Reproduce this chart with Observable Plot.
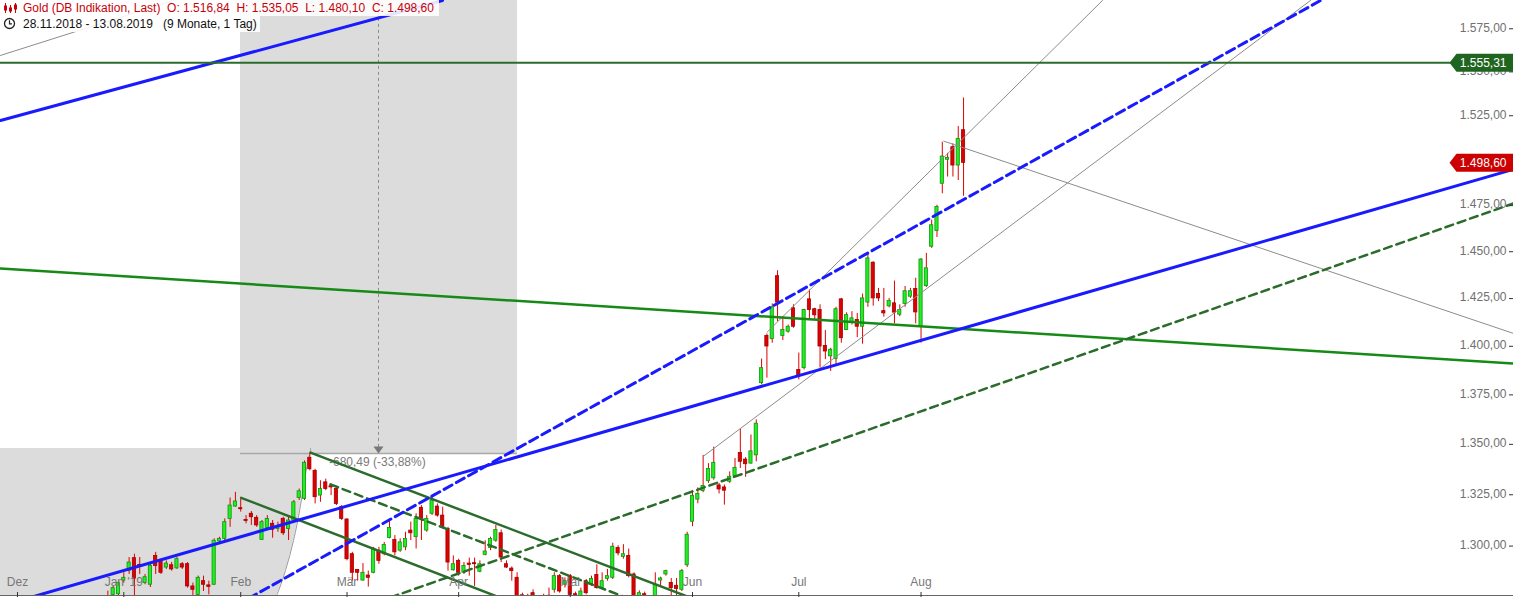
<!DOCTYPE html>
<html><head><meta charset="utf-8">
<script src="https://cdn.jsdelivr.net/npm/d3@7"></script>
<script src="https://cdn.jsdelivr.net/npm/@observablehq/plot@0.6"></script>
<style>
body{margin:0;background:#fff;font-family:"Liberation Sans",Arial,sans-serif;}
#wrap{position:relative;width:1513px;height:598px;overflow:hidden;}
#wrap svg.plot{display:block}
.hl{position:absolute;left:0;height:16px;line-height:16px;background:rgba(255,255,255,0.88);white-space:pre;font-size:12px;padding-left:23px;padding-right:5px;}
#l1{top:0;color:#c8000a;}
#l2{top:16px;color:#111;padding-right:3px;}
.ico{position:absolute;left:3px;top:2px;}
</style></head>
<body><div id="wrap"></div>
<script>
// ---------------- data ----------------
const title = "Gold (DB Indikation, Last)";
const ohlcLabel = "O: 1.516,84  H: 1.535,05  L: 1.480,10  C: 1.498,60";
const rangeLabel = "28.11.2018 - 13.08.2019   (9 Monate, 1 Tag)";

const dates = [
"2018-11-28","2018-11-29","2018-11-30",
"2018-12-03","2018-12-04","2018-12-05","2018-12-06","2018-12-07","2018-12-10","2018-12-11","2018-12-12","2018-12-13","2018-12-14",
"2018-12-17","2018-12-18","2018-12-19","2018-12-20","2018-12-21","2018-12-24","2018-12-26","2018-12-27","2018-12-28","2018-12-31",
"2019-01-02","2019-01-03","2019-01-04","2019-01-07","2019-01-08","2019-01-09","2019-01-10","2019-01-11","2019-01-14","2019-01-15",
"2019-01-16","2019-01-17","2019-01-18","2019-01-21","2019-01-22","2019-01-23","2019-01-24","2019-01-25","2019-01-28","2019-01-29","2019-01-30","2019-01-31",
"2019-02-01","2019-02-04","2019-02-05","2019-02-06","2019-02-07","2019-02-08","2019-02-11","2019-02-12","2019-02-13","2019-02-14","2019-02-15",
"2019-02-18","2019-02-19","2019-02-20","2019-02-21","2019-02-22","2019-02-25","2019-02-26","2019-02-27","2019-02-28",
"2019-03-01","2019-03-04","2019-03-05","2019-03-06","2019-03-07","2019-03-08","2019-03-11","2019-03-12","2019-03-13","2019-03-14","2019-03-15",
"2019-03-18","2019-03-19","2019-03-20","2019-03-21","2019-03-22","2019-03-25","2019-03-26","2019-03-27","2019-03-28","2019-03-29",
"2019-04-01","2019-04-02","2019-04-03","2019-04-04","2019-04-05","2019-04-08","2019-04-09","2019-04-10","2019-04-11","2019-04-12",
"2019-04-15","2019-04-16","2019-04-17","2019-04-18","2019-04-22","2019-04-23","2019-04-24","2019-04-25","2019-04-26","2019-04-29","2019-04-30",
"2019-05-01","2019-05-02","2019-05-03","2019-05-06","2019-05-07","2019-05-08","2019-05-09","2019-05-10","2019-05-13","2019-05-14","2019-05-15","2019-05-16","2019-05-17",
"2019-05-20","2019-05-21","2019-05-22","2019-05-23","2019-05-24","2019-05-27","2019-05-28","2019-05-29","2019-05-30","2019-05-31",
"2019-06-03","2019-06-04","2019-06-05","2019-06-06","2019-06-07","2019-06-10","2019-06-11","2019-06-12","2019-06-13","2019-06-14",
"2019-06-17","2019-06-18","2019-06-19","2019-06-20","2019-06-21","2019-06-24","2019-06-25","2019-06-26","2019-06-27","2019-06-28",
"2019-07-01","2019-07-02","2019-07-03","2019-07-04","2019-07-05","2019-07-08","2019-07-09","2019-07-10","2019-07-11","2019-07-12",
"2019-07-15","2019-07-16","2019-07-17","2019-07-18","2019-07-19","2019-07-22","2019-07-23","2019-07-24","2019-07-25","2019-07-26","2019-07-29","2019-07-30","2019-07-31",
"2019-08-01","2019-08-02","2019-08-05","2019-08-06","2019-08-07","2019-08-08","2019-08-09","2019-08-12","2019-08-13"
];

const open = [
1214,1222,1224,
1226,1231,1238,1237,1239,1248,1244,1245,1244,1241,1238,1246,1249,1243,1259,1256,1270,1268,1276.7,1277.0,
1283.5,1288.0,1294.2,1291.0,1282.3,1281.5,1295.3,1292.9,1289.7,1290.8,1289.3,1291.3,1291.3,1280.7,1276.7,1283.2,1281.2,1281.5,1302.3,1303.5,1313.2,1319.2,
1318.4,1312.7,1315.7,1313.7,1303.0,1308.8,1310.8,1308.3,1313.2,1308.3,1312.4,1323.4,1323.0,1343.3,1336.8,1324.6,1331.1,1329.2,1327.8,1318.9,
1312.9,1296.1,1288.5,1283.5,1285.9,1287.2,1297.8,1296.1,1303.9,1303.0,1297.8,1299.4,1307.5,1304.3,1318.6,1307.5,1315.7,1319.2,1314.8,1308.3,1288.4,
1292.9,1287.2,1291.6,1291.8,1287.7,1295.8,1299.1,1302.6,1306.2,1291.3,1289.2,1284.8,1276.5,1273.0,1277.5,1274.0,1271.0,1274.0,1279.1,1285.6,1281.5,
1285.6,1277.0,1275.8,1283.2,1281.8,1286.1,1279.9,1284.3,1284.8,1299.1,1294.8,1295.3,1286.4,1275.8,1277.0,1270.0,1275.8,1283.5,1286.4,1282.3,1281.0,1279.1,1290.8,
1311.8,1322.6,1326.8,1331.7,1333.1,1329.6,1328.6,1331.4,1334.2,1345.7,1342.4,1340.4,1344.5,1381.0,1405.4,1403.7,1436.9,1405.4,1407.6,1419.9,
1387.8,1388.7,1424.6,1419.4,1419.0,1400.2,1394.8,1393.4,1424.6,1408.5,1412.3,1413.7,1410.2,1422.9,1444.1,1427.4,1418.4,1420.9,1422.5,1416.5,1422.2,1426.0,1430.1,
1410.2,1431.6,1452.7,1461.2,1487.0,1500.3,1507.3,1497.1,1516.84
];
const high = [
1226,1227,1226,
1236,1240,1241,1244,1250,1250,1248,1249,1246,1243,1247,1251,1258,1262,1263,1271,1271,1278.5,1280.7,1283.2,
1287.2,1294.5,1296.1,1294.5,1286.4,1291.6,1297.0,1293.7,1292.9,1292.1,1294.5,1292.1,1292.1,1282.3,1285.6,1285.6,1283.2,1303.5,1304.3,1313.2,1323.4,1326.2,
1323.0,1314.8,1316.8,1314.8,1312.4,1314.8,1312.4,1311.6,1314.0,1314.8,1322.2,1327.8,1341.7,1345.5,1337.6,1331.9,1332.7,1330.3,1328.6,1319.7,
1313.2,1297.0,1288.8,1291.6,1288.0,1299.4,1299.4,1301.8,1312.4,1305.1,1303.5,1306.7,1311.6,1315.7,1319.7,1314.8,1324.6,1320.5,1318.9,1309.1,1295.3,
1293.7,1292.1,1294.2,1294.2,1292.9,1302.6,1304.3,1310.0,1307.8,1292.9,1290.0,1287.2,1277.5,1277.0,1279.1,1275.0,1277.0,1279.9,1287.2,1286.4,1284.8,
1286.4,1278.0,1279.9,1284.0,1285.6,1291.0,1287.2,1288.8,1301.4,1300.2,1300.7,1298.6,1287.2,1278.6,1278.0,1276.0,1287.2,1285.1,1288.4,1284.5,1284.5,1288.8,1306.7,
1327.1,1328.4,1344.5,1340.4,1348.6,1330.6,1329.8,1336.3,1342.9,1357.7,1343.4,1354.7,1362.3,1393.4,1406.4,1422.2,1439.8,1415.5,1411.1,1421.7,
1396.5,1419.4,1429.5,1419.9,1421.7,1408.2,1399.0,1420.4,1425.1,1417.5,1418.1,1417.2,1427.4,1448.7,1444.6,1430.4,1430.4,1425.1,1434.3,1421.7,1431.4,1430.4,1435.8,
1446.3,1449.1,1467.1,1475.2,1510.1,1503.9,1509.2,1518.9,1535.05
];
const low = [
1212,1219,1217,
1225,1229,1235,1234,1237,1241,1240,1241,1239,1233,1236,1244,1243,1241,1255,1255,1264,1265,1275.3,1275.8,
1282.3,1286.4,1275.8,1286.4,1281.5,1280.2,1286.4,1286.4,1288.8,1288.0,1288.8,1288.8,1279.9,1275.8,1275.8,1278.3,1276.7,1281.2,1301.0,1302.7,1309.1,1318.9,
1316.5,1310.8,1310.0,1309.1,1302.7,1308.3,1303.8,1306.7,1305.1,1302.7,1311.6,1322.2,1322.2,1336.8,1320.5,1321.3,1327.0,1324.6,1319.7,1312.4,
1292.9,1283.2,1283.2,1283.2,1280.4,1286.7,1291.3,1295.3,1303.5,1295.3,1297.0,1297.8,1302.7,1298.6,1302.7,1306.7,1314.8,1314.0,1308.3,1288.0,1288.0,
1285.6,1286.4,1285.6,1280.7,1287.2,1295.3,1297.8,1301.8,1292.1,1289.3,1283.2,1273.0,1270.0,1266.0,1275.0,1266.0,1269.0,1272.0,1277.5,1277.5,1279.9,
1275.8,1266.0,1275.3,1276.7,1280.7,1279.4,1279.1,1283.2,1284.0,1295.3,1293.7,1284.8,1274.0,1273.0,1268.0,1269.0,1273.0,1280.7,1285.6,1275.8,1276.0,1278.3,1289.7,
1309.4,1320.6,1326.0,1330.6,1332.2,1325.4,1319.9,1330.6,1333.9,1338.0,1333.6,1340.1,1341.3,1380.2,1383.6,1401.6,1412.9,1403.0,1406.8,1409.4,
1382.7,1387.8,1413.4,1413.4,1388.7,1393.1,1387.0,1390.5,1401.6,1408.2,1411.1,1404.5,1401.1,1420.4,1421.0,1423.4,1415.2,1420.1,1411.7,1415.5,1420.4,1425.1,1411.7,
1401.6,1430.9,1451.8,1457.7,1481.5,1490.7,1490.7,1488.8,1480.10
];
const close = [
1222,1224,1222,
1231,1239,1237,1239,1248,1244,1245,1244,1241,1238,1246,1249,1243,1259,1256,1270,1268,1276,1279.9,1282.3,
1284.8,1292.1,1284.4,1290.0,1285.1,1290.5,1290.5,1287.2,1291.6,1288.8,1293.7,1289.7,1280.7,1279.1,1284.8,1281.5,1280.5,1302.6,1303.5,1311.6,1319.7,1321.7,
1317.9,1312.2,1314.0,1310.0,1311.6,1313.2,1307.9,1309.5,1306.2,1312.4,1321.3,1326.7,1340.8,1337.6,1323.8,1327.8,1327.8,1328.6,1320.5,1313.2,
1293.7,1287.2,1287.2,1287.2,1284.8,1298.6,1292.9,1300.5,1308.8,1297.0,1301.8,1303.5,1306.2,1313.2,1313.2,1313.2,1322.2,1314.8,1309.1,1292.1,1291.3,
1287.2,1290.5,1291.0,1291.3,1291.3,1297.4,1303.5,1307.8,1294.5,1289.7,1288.0,1275.8,1273.0,1275.0,1275.8,1271.0,1275.0,1276.3,1285.6,1278.3,1283.2,
1276.7,1271.0,1278.3,1277.5,1284.3,1279.9,1283.2,1285.6,1299.7,1296.5,1296.1,1285.6,1275.8,1277.5,1270.0,1274.0,1281.5,1284.5,1288.0,1279.9,1279.5,1288.0,1305.5,
1324.5,1325.4,1329.3,1337.7,1340.8,1327.6,1327.0,1333.9,1338.3,1341.3,1340.1,1346.5,1360.4,1388.7,1399.9,1420.4,1422.9,1408.5,1410.2,1410.2,
1384.4,1419.0,1419.0,1416.2,1399.9,1397.3,1398.2,1419.4,1404.2,1416.3,1414.6,1410.2,1425.1,1446.4,1425.1,1425.1,1417.2,1423.8,1417.6,1419.0,1428.9,1428.9,1417.7,
1445.8,1441.1,1464.3,1474.3,1502.1,1501.4,1497.1,1512.0,1498.60
];

const monthStarts = ["2018-12-03","2019-01-02","2019-02-01","2019-03-01","2019-04-01","2019-05-01","2019-06-03","2019-07-01","2019-08-01"];
const monthLabels = ["Dez","Jan '19","Feb","Mär","Apr","Mai","Jun","Jul","Aug"];
// 1.500,00 sits fully under the last-price tag in the reference, so it is not drawn
const yTicks = [1300,1325,1350,1375,1400,1425,1450,1475,1525,1550,1575];
const tagHorizontal = 1555.31;
const tagLast = 1498.60;

// drawing tools (trading-day index, price)
const blueMain   = [[-0.2,1271.4],[284.47,1495.0]];
const blueUpper  = [[-0.2,1522.3],[82.96,1591.6]];
const blueDashed = [[46.46,1275.0],[248.16,1591.6]];
const greenDashedLong = [[73.18,1275.5],[284.47,1476.2]];
const greenLong  = [[-0.2,1441.0],[284.47,1391.1]];
const greenChanUpper = [[58.13,1345.9],[130.0,1275.0]];
const greenChanLower = [[45.09,1323.5],[94.18,1275.0]];
const greenChanMid   = [[61.89,1330.1],[117.96,1275.0]];
const grayUpper  = [[144.05,1407.4],[207.14,1591.6]];
const grayLower  = [[132.13,1344.2],[246.27,1591.6]];
const grayDown   = [[177.28,1510.7],[284.47,1406.7]];
const grayTopLeft= [[-0.2,1559.5],[32.35,1591.6]];
const measureBox = {x1:44.96, x2:97.07, y1:1345.4, y2:1600};
const measureArc = [[1347.9,58.13],[1345.9,58.13],[1340.9,57.57],[1319.7,56.24],[1302.7,54.93],[1288.3,53.42],[1277.4,51.92],[1275.0,51.54],[1269.3,50.98]];
const measureArrow = {x:70.92, yTop:1600, yEnd:1348.5, yTip:1346.9};
const measureNote = {x:61.6, y:1340.9, text:"-680,49 (-33,88%)"};

// ---------------- chart ----------------
const candles = dates.map((d,i)=>({i, date:d, o:open[i], h:high[i], l:low[i], c:close[i]}));
const up = candles.filter(d=>d.c>=d.o), down = candles.filter(d=>d.c<d.o);
const months = monthStarts.map((d,k)=>({i:dates.indexOf(d), label:monthLabels[k]}));
const de = d3.formatLocale({decimal:",", thousands:".", grouping:[3], currency:["",""]});
const fmt = de.format(",.2f");

const tagSymbol = {draw(ctx){ctx.moveTo(-64,0);ctx.lineTo(-57,-9);ctx.lineTo(0,-9);ctx.lineTo(0,9);ctx.lineTo(-57,9);ctx.closePath();}};
const arrowSymbol = {draw(ctx){ctx.moveTo(-5,-4);ctx.lineTo(5,-4);ctx.lineTo(0,3);ctx.closePath();}};
const P = d=>({x:d[0], y:d[1]});
const ln = (pts, o) => Plot.line(pts.map(P), {x:"x", y:"y", clip:true, ...o});

const chart = Plot.plot({
  width:1513, height:598,
  marginTop:0, marginRight:0, marginBottom:3, marginLeft:0,
  x:{domain:[-0.1985,284.47], axis:null},
  y:{type:"log", domain:[1276.4,1591.6], axis:null},
  style:{fontFamily:"'Liberation Sans', Arial, sans-serif", fontSize:"12px", background:"white", overflow:"hidden"},
  marks:[
    // measurement tool shading
    Plot.rect([measureBox], {x1:"x1", x2:"x2", y1:"y1", y2:"y2", fill:"#dcdcdc", clip:true}),
    Plot.areaX(measureArc, {y:d=>d[0], x1:()=>-0.2, x2:d=>d[1], fill:"#dcdcdc", curve:"natural", clip:true}),
    Plot.line(measureArc, {y:d=>d[0], x:d=>d[1], stroke:"#999", strokeWidth:1, curve:"natural", clip:true}),
    Plot.ruleY([measureBox], {y:"y1", x1:"x1", x2:"x2", stroke:"#a8a8a8", strokeWidth:1.5}),
    Plot.ruleX([measureArrow], {x:"x", y1:"yEnd", y2:"yTop", stroke:"#8a8a8a", strokeDasharray:"3,3", strokeWidth:1, clip:true}),
    Plot.dot([measureArrow], {x:"x", y:"yTip", symbol:arrowSymbol, fill:"#777", stroke:"none"}),
    Plot.text([measureNote], {x:"x", y:"y", text:"text", textAnchor:"start", fill:"#7a7a7a", fontSize:12}),
    // candles
    Plot.ruleX(candles, {x:"i", y1:"l", y2:"h", stroke:"#e00000", strokeWidth:1, clip:true}),
    Plot.rect(up, {x1:d=>d.i-0.3, x2:d=>d.i+0.3, y1:"o", y2:"c", fill:"#22ee22", stroke:"#0b960b", strokeWidth:0.8, clip:true}),
    Plot.rect(down, {x1:d=>d.i-0.3, x2:d=>d.i+0.3, y1:"o", y2:"c", fill:"#e00000", stroke:"#a00000", strokeWidth:0.8, clip:true}),
    // drawing tools
    ln(grayTopLeft, {stroke:"#8c8c8c", strokeWidth:1}),
    ln(grayUpper, {stroke:"#8c8c8c", strokeWidth:1}),
    ln(grayLower, {stroke:"#8c8c8c", strokeWidth:1}),
    ln(grayDown, {stroke:"#8c8c8c", strokeWidth:1}),
    ln(greenLong, {stroke:"#168a16", strokeWidth:2.5}),
    ln(greenChanUpper, {stroke:"#2b6b2b", strokeWidth:2.5}),
    ln(greenChanLower, {stroke:"#2b6b2b", strokeWidth:2.5}),
    ln(greenChanMid, {stroke:"#2b6b2b", strokeWidth:2.5, strokeDasharray:"8,5"}),
    ln(greenDashedLong, {stroke:"#2b6b2b", strokeWidth:2.5, strokeDasharray:"8,5"}),
    ln(blueMain, {stroke:"#1a1aff", strokeWidth:3}),
    ln(blueUpper, {stroke:"#1a1aff", strokeWidth:3}),
    ln(blueDashed, {stroke:"#1a1aff", strokeWidth:3, strokeDasharray:"9,5"}),
    Plot.ruleY([tagHorizontal], {stroke:"#2b6b2b", strokeWidth:2}),
    // y axis (right, inside)
    Plot.text(yTicks, {y:d=>d, text:d=>fmt(d), frameAnchor:"right", dx:-7, dy:-1, textAnchor:"end", fill:"#707070", fontSize:12}),
    Plot.tickY(yTicks, {y:d=>d, insetLeft:1509, stroke:"#333", strokeWidth:1}),
    // price tags
    Plot.dot([tagHorizontal], {y:d=>d, frameAnchor:"right", symbol:tagSymbol, fill:"#1f641f", stroke:"none"}),
    Plot.text([tagHorizontal], {y:d=>d, text:d=>fmt(d), frameAnchor:"right", dx:-7, textAnchor:"end", fill:"white", fontSize:12}),
    Plot.dot([tagLast], {y:d=>d, frameAnchor:"right", symbol:tagSymbol, fill:"#cc0000", stroke:"none"}),
    Plot.text([tagLast], {y:d=>d, text:d=>fmt(d), frameAnchor:"right", dx:-7, textAnchor:"end", fill:"white", fontSize:12}),
    // x axis
    Plot.ruleY([1276.4], {stroke:"#666", strokeWidth:1}),
    Plot.tickX(months, {x:"i", insetTop:592, insetBottom:-2, stroke:"#333"}),
    Plot.text(months, {x:"i", text:"label", frameAnchor:"bottom", dy:-10, fill:"#777", fontSize:12})
  ]
});
chart.classList.add("plot");
const wrap = document.getElementById("wrap");
wrap.appendChild(chart);

// header overlay
const l1 = document.createElement("div"); l1.id="l1"; l1.className="hl";
l1.innerHTML = '<svg class="ico" width="16" height="12" viewBox="0 0 16 12"><g stroke="#c8000a" fill="#c8000a"><line x1="2.5" y1="1" x2="2.5" y2="11"/><rect x="1.5" y="4" width="2" height="4"/><line x1="7.5" y1="3" x2="7.5" y2="11"/><rect x="6.5" y="6" width="2" height="3"/><line x1="12.5" y1="1" x2="12.5" y2="11"/><rect x="11.5" y="3" width="2" height="4"/></g></svg>';
l1.appendChild(document.createTextNode(title + "  " + ohlcLabel));
const l2 = document.createElement("div"); l2.id="l2"; l2.className="hl";
l2.innerHTML = '<svg class="ico" width="13" height="13" viewBox="0 0 13 13" style="top:1px"><circle cx="6.5" cy="6.5" r="5" fill="none" stroke="#222" stroke-width="1.3"/><path d="M6.5 3.2V6.8H9" fill="none" stroke="#222" stroke-width="1.2"/></svg>';
l2.appendChild(document.createTextNode(rangeLabel));
wrap.appendChild(l1); wrap.appendChild(l2);
</script>
</body></html>
